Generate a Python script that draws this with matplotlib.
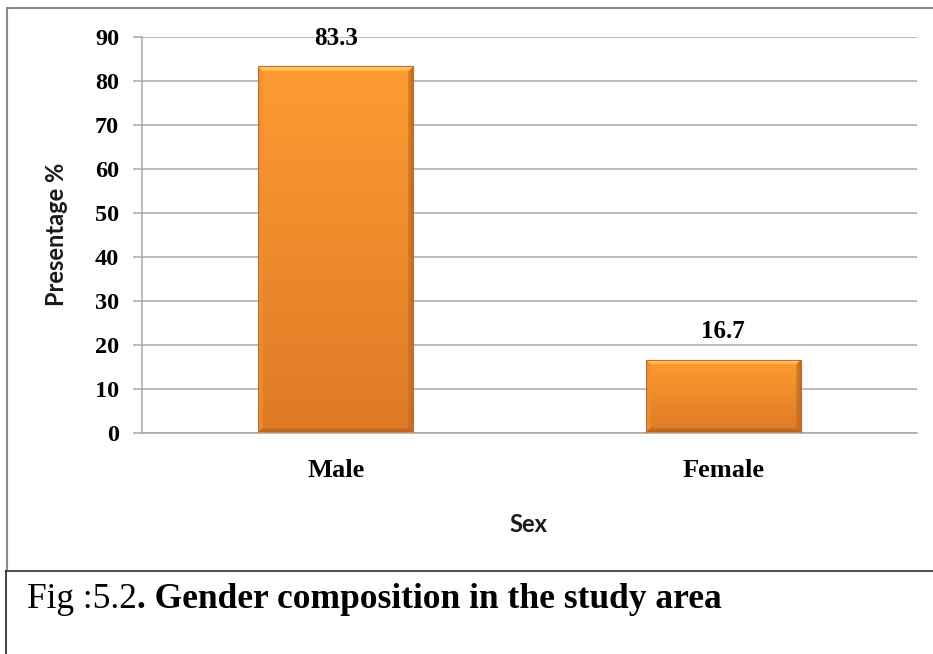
import numpy as np
import matplotlib
matplotlib.use("Agg")
import matplotlib.pyplot as plt
from matplotlib.lines import Line2D
from matplotlib.colors import to_rgb

# Data
categories = ["Male", "Female"]
percentages = [83.3, 16.7]
y_ticks = [0, 10, 20, 30, 40, 50, 60, 70, 80, 90]

W, H = 933, 654
DPI = 100
fig = plt.figure(figsize=(W / DPI, H / DPI), dpi=DPI)
fig.patch.set_facecolor("white")


def fx(px):
    return px / W


def fy(py):
    return 1 - py / H


grid_col = "#a8a8a8"
serif = ["Liberation Serif", "DejaVu Serif"]
sans = ["Lato", "DejaVu Sans"]

ax = fig.add_axes([fx(142), fy(433), fx(917) - fx(142), fy(37) - fy(433)])
ax.set_xlim(-0.5, 1.5)
ax.set_ylim(0, 90)
ax.set_yticks(y_ticks)
ax.set_yticklabels([str(v) for v in y_ticks], fontfamily=serif,
                   fontweight="bold", fontsize=17.5)
ax.set_xticks(range(len(categories)))
ax.set_xticklabels(categories, fontfamily=serif, fontweight="bold", fontsize=19)
ax.tick_params(axis="y", length=6.5, width=1.1, color=grid_col, pad=10,
               direction="out")
ax.tick_params(axis="x", length=0, pad=19)
ax.grid(axis="y", color=grid_col, linewidth=1.1)
ax.set_axisbelow(True)
for s in ("top", "right"):
    ax.spines[s].set_visible(False)
for s in ("left", "bottom"):
    ax.spines[s].set_color(grid_col)
    ax.spines[s].set_linewidth(1.1)

bar_width = 0.4
bars = ax.bar(range(len(categories)), percentages, width=bar_width,
              color="none", edgecolor="none", zorder=2)


def lerp(c1, c2, t):
    c1 = np.array(to_rgb(c1))
    c2 = np.array(to_rgb(c2))
    return c1[None, :] * (1 - t[:, None]) + c2[None, :] * t[:, None]


def bevel_image(wpx, hpx, bevel=5):
    rows = np.arange(hpx)
    t = rows / max(hpx - 1, 1)
    body = lerp("#fd9b32", "#de7a26", t)
    img = np.repeat(body[:, None, :], wpx, axis=1)
    ii, jj = np.meshgrid(np.arange(hpx), np.arange(wpx), indexing="ij")
    d_top = ii
    d_bot = hpx - 1 - ii
    d_left = jj
    d_right = wpx - 1 - jj
    d = np.stack([d_top, d_bot, d_left, d_right])
    which = np.argmin(d, axis=0)
    dmin = np.min(d, axis=0)
    inb = dmin < bevel
    top_col = np.array(to_rgb("#ffd35c"))
    bot_col = np.array(to_rgb("#b4621f"))
    left_col = np.array(to_rgb("#f0902e"))
    right_col = np.array(to_rgb("#c36c24"))
    for k, col in enumerate([top_col, bot_col, left_col, right_col]):
        m = inb & (which == k)
        frac = (1 - dmin[m] / bevel) * 0.55 + 0.45
        img[m] = img[m] * (1 - frac[:, None]) + col[None, :] * frac[:, None]
    return img


for rect, val in zip(bars, percentages):
    x0 = rect.get_x()
    x1 = x0 + rect.get_width()
    p0 = ax.transData.transform((x0, 0))
    p1 = ax.transData.transform((x1, val))
    wpx = max(int(round(p1[0] - p0[0])), 2)
    hpx = max(int(round(p1[1] - p0[1])), 2)
    img = bevel_image(wpx, hpx)
    im = ax.imshow(img, extent=(x0, x1, 0, val), aspect="auto",
                   interpolation="bilinear", zorder=2)
    im.set_clip_path(rect)
    ax.add_patch(plt.Rectangle((x0, 0), x1 - x0, val, fill=False,
                               edgecolor="#c06c26", linewidth=0.8, zorder=3))
    ax.annotate(f"{val:.1f}", xy=(x0 + (x1 - x0) / 2, val),
                xytext=(0, 12), textcoords="offset points", ha="center",
                va="bottom", fontfamily=serif, fontweight="bold", fontsize=18)

ax.set_xlim(-0.5, 1.5)
ax.set_ylim(0, 90)

# Axis titles
fig.text(fx(57), fy(234), "Presentage %", rotation=90, ha="center",
         va="center", fontfamily=sans, fontweight="bold", fontsize=17,
         color="#1a1a1a")
fig.text(fx(528), fy(525), "Sex", ha="center", va="center",
         fontfamily=sans, fontweight="bold", fontsize=17, color="#1a1a1a")

# Frames around the chart and the caption
frame_col = "#8a8a8a"
fig.add_artist(Line2D([fx(7.5), fx(7.5)], [fy(7.5), fy(571)], color=frame_col,
                      linewidth=1.5, transform=fig.transFigure))
fig.add_artist(Line2D([fx(7.5), fx(933)], [fy(7.5), fy(7.5)], color=frame_col,
                      linewidth=1.5, transform=fig.transFigure))
fig.add_artist(Line2D([fx(6), fx(933)], [fy(571), fy(571)], color="#555555",
                      linewidth=1.5, transform=fig.transFigure))
fig.add_artist(Line2D([fx(6), fx(6)], [fy(571), fy(654)], color="#222222",
                      linewidth=1.2, transform=fig.transFigure))

# Caption: plain figure number followed by bold title
cap1 = fig.text(fx(27), fy(608), "Fig :5.2", ha="left", va="baseline",
                fontfamily=serif, fontsize=25.5, color="black")
fig.canvas.draw()
bb = cap1.get_window_extent(renderer=fig.canvas.get_renderer())
fig.text(bb.x1 / W, fy(608), ". Gender composition in the study area",
         ha="left", va="baseline", fontfamily=serif, fontweight="bold",
         fontsize=25.5, color="black")

fig.savefig("out.png", dpi=DPI, facecolor="white")
